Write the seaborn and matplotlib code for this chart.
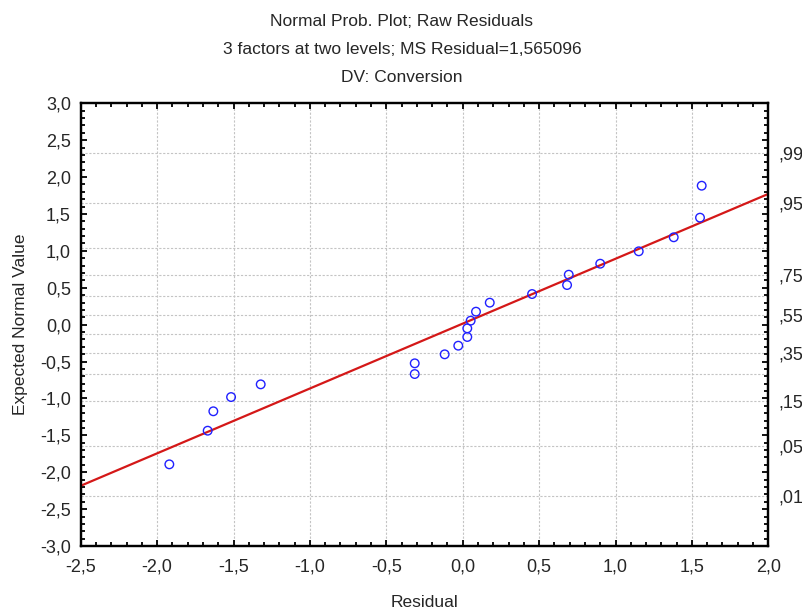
import matplotlib
matplotlib.use("Agg")
import matplotlib.pyplot as plt
import matplotlib.ticker as mticker
import seaborn as sns
import pandas as pd
import numpy as np
from statistics import NormalDist

# ---- data ----
residuals = [1.564, 1.553, 1.381, 1.152, 0.900, 0.694, 0.683, 0.454, 0.177, 0.087,
             0.052, 0.030, 0.030, -0.029, -0.118, -0.314, -0.314, -1.322, -1.516,
             -1.632, -1.669, -1.920]
expected = [1.883, 1.450, 1.184, 0.994, 0.826, 0.677, 0.537, 0.415, 0.298, 0.176,
            0.054, -0.050, -0.167, -0.285, -0.402, -0.524, -0.669, -0.809, -0.981,
            -1.174, -1.437, -1.893]
line_slope = 0.879
line_intercept = 0.014
grid_probs = [0.01, 0.05, 0.15, 0.25, 0.35, 0.45, 0.55, 0.65, 0.75, 0.85, 0.95, 0.99]
label_probs = [0.01, 0.05, 0.15, 0.35, 0.55, 0.75, 0.95, 0.99]
prob_labels = [",01", ",05", ",15", ",35", ",55", ",75", ",95", ",99"]
title_lines = ["Normal Prob. Plot; Raw Residuals",
               "3 factors at two levels; MS Residual=1,565096",
               "DV: Conversion"]
xlim = (-2.5, 2.0)
ylim = (-3.0, 3.0)

sns.set_style("white")
plt.rcParams['font.family'] = ['Liberation Sans', 'DejaVu Sans']

fig = plt.figure(figsize=(8.03, 6.09), dpi=100)
ax = fig.add_axes([0.1005, 0.1034, 0.9568 - 0.1005, 0.8304 - 0.1034])
tw = ax.twinx()

df = pd.DataFrame({"Residual": residuals, "Expected": expected})
sns.scatterplot(data=df, x="Residual", y="Expected", ax=ax, marker="o",
                facecolor="none", edgecolor="#2020ff", linewidth=1.0, s=38, zorder=3)

line_x = np.array(xlim)
line_df = pd.DataFrame({"x": line_x, "y": line_slope * line_x + line_intercept})
sns.lineplot(data=line_df, x="x", y="y", ax=ax, color="#d41818", linewidth=1.6, zorder=2)

ax.set_xlim(*xlim)
ax.set_ylim(*ylim)
tw.set_ylim(*ylim)

comma = mticker.FuncFormatter(lambda v, p: f"{v:.1f}".replace(".", ","))
ax.xaxis.set_major_locator(mticker.MultipleLocator(0.5))
ax.xaxis.set_minor_locator(mticker.MultipleLocator(0.1))
ax.yaxis.set_major_locator(mticker.MultipleLocator(0.5))
ax.yaxis.set_minor_locator(mticker.MultipleLocator(0.1))
ax.xaxis.set_major_formatter(comma)
ax.yaxis.set_major_formatter(comma)

ax.tick_params(which="both", direction="in", top=True, right=True, bottom=True, left=True,
               width=1.3, color="black", labelsize=13)
ax.tick_params(axis="y", pad=7)
ax.tick_params(axis="x", pad=9)
ax.tick_params(which="major", length=4)
ax.tick_params(which="minor", length=3)

# right-side probability axis
nd = NormalDist()
tw.set_yticks([nd.inv_cdf(p) for p in label_probs])
tw.set_yticklabels(prob_labels)
extra = [p for p in grid_probs if p not in label_probs]
tw.set_yticks([nd.inv_cdf(p) for p in extra], minor=True)
tw.tick_params(which="both", length=0, labelsize=13, pad=7)
tw.grid(True, which="both", axis="y", color="#c4c4c4", linestyle=(0, (2, 1.5)), linewidth=0.8)
ax.grid(True, which="major", axis="x", color="#c4c4c4", linestyle=(0, (2, 1.5)), linewidth=0.8)
ax.grid(False, axis="y")
ax.set_zorder(tw.get_zorder() + 1)
ax.patch.set_visible(False)
tw.patch.set_visible(True)
tw.patch.set_facecolor("white")

for a in (ax, tw):
    for sp in a.spines.values():
        sp.set_color("black")
        sp.set_linewidth(1.6)
        sp.set_visible(True)

ax.set_xlabel("Residual", fontsize=12.5, labelpad=14)
ax.set_ylabel("Expected Normal Value", fontsize=12.5, labelpad=9)

for i, t in enumerate(title_lines):
    fig.text(0.5006, 1 - (21 + 28.5 * i) / 609, t, ha="center", va="center", fontsize=12.5)

fig.savefig("out.png", dpi=100)
